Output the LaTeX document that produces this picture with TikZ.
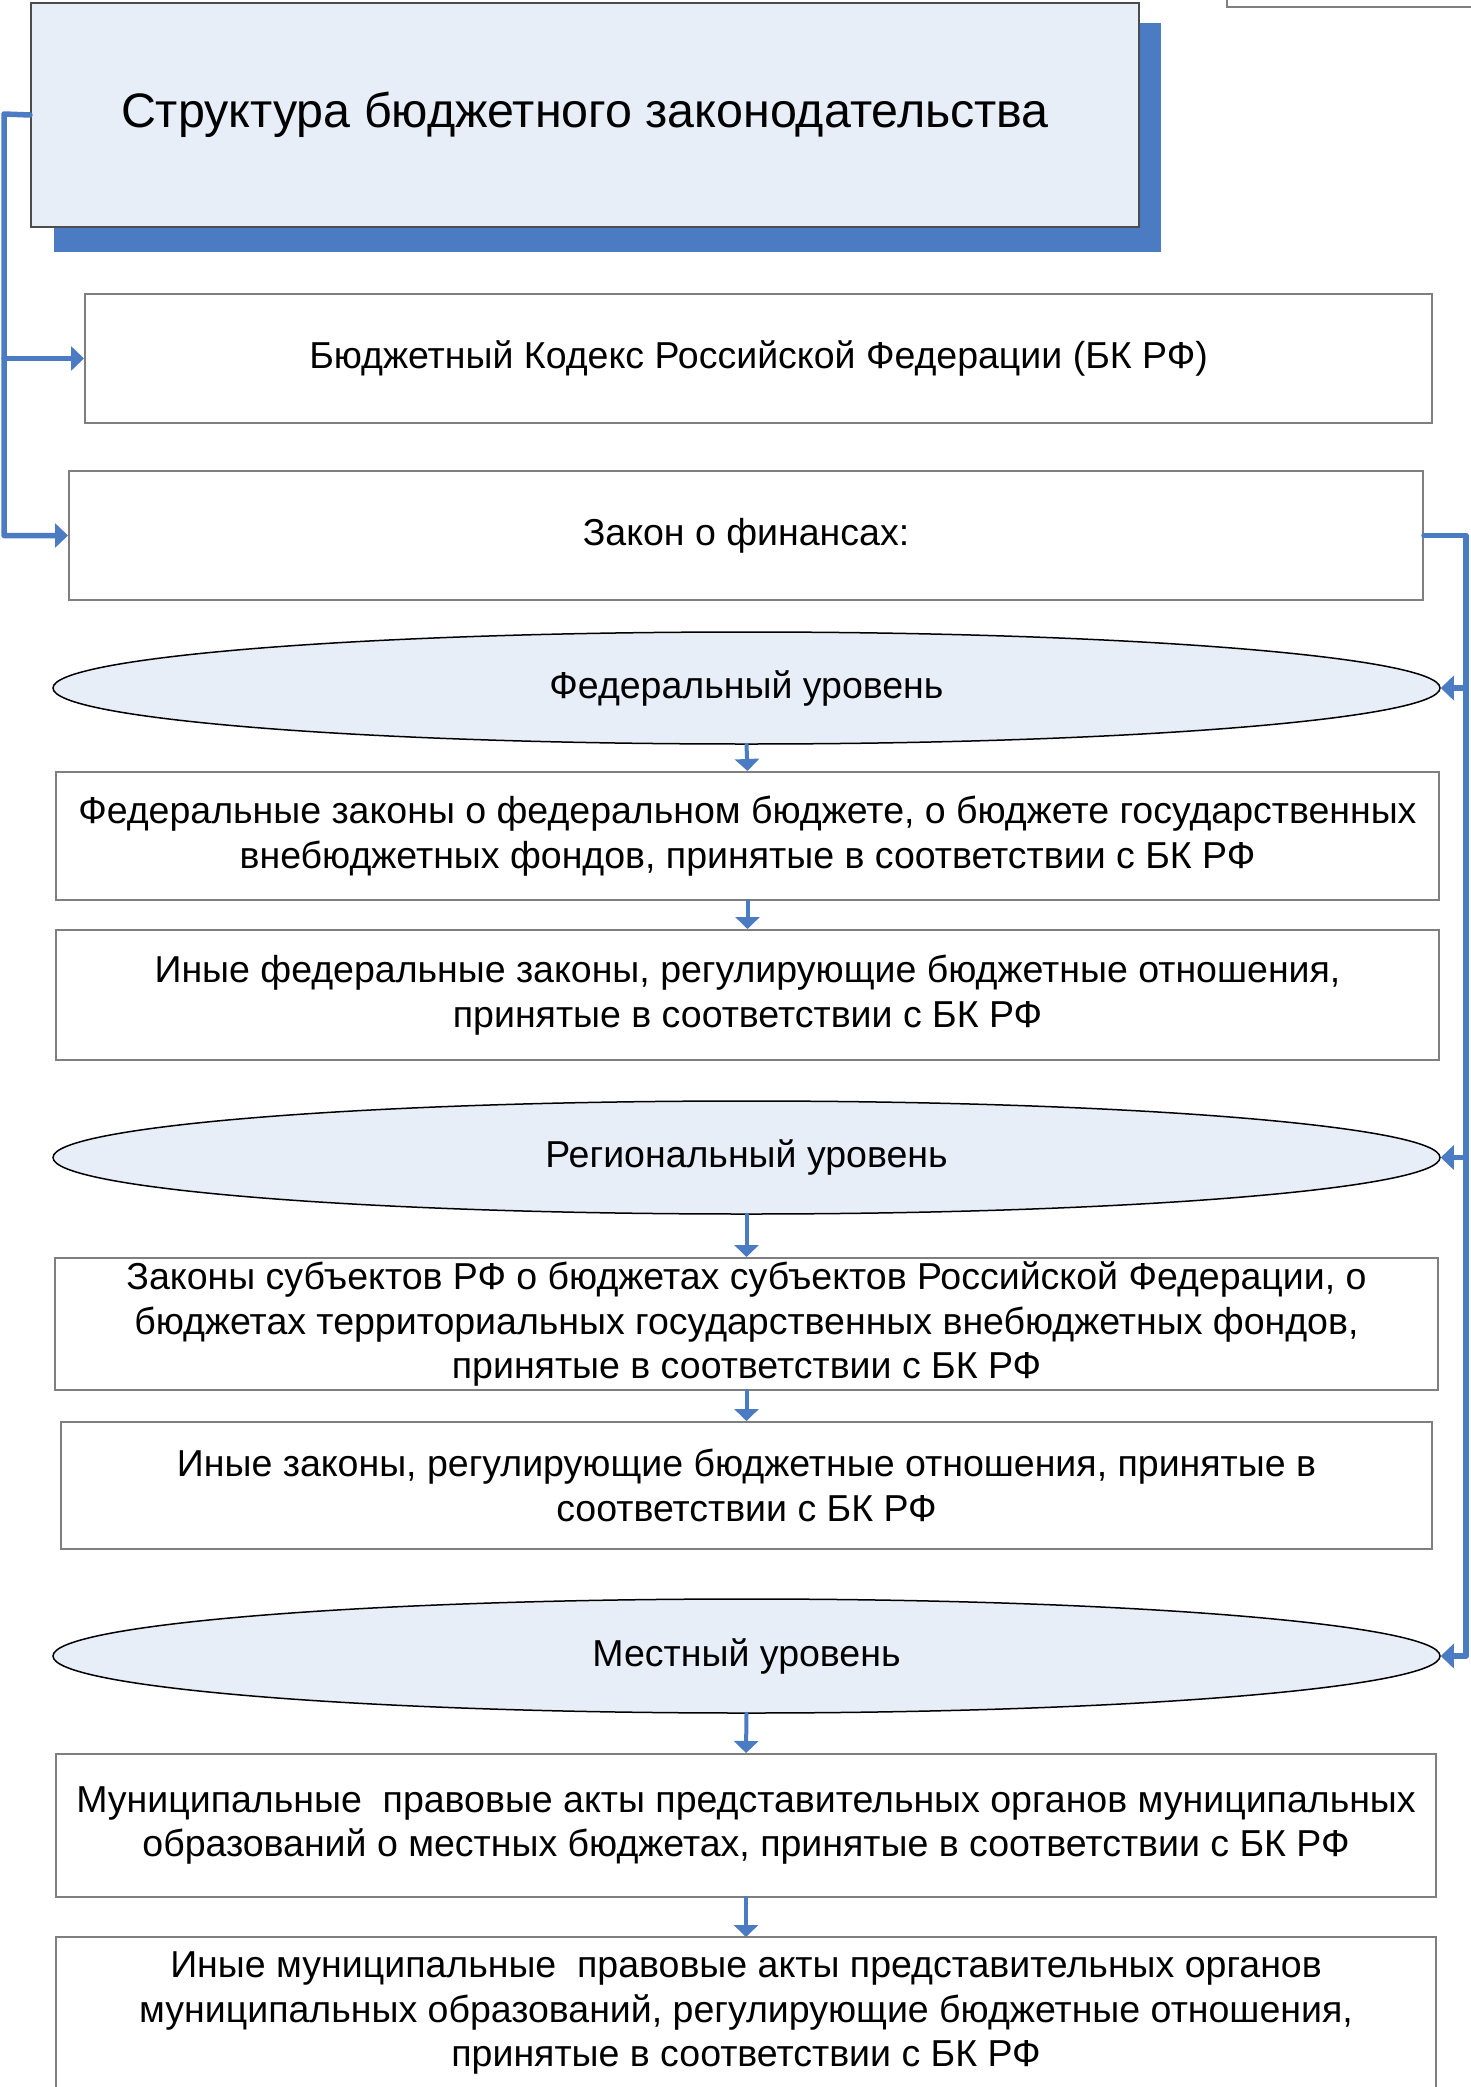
\documentclass[tikz,border=0pt]{standalone}
\usepackage{fontspec}
\setmainfont{Liberation Sans}
\usetikzlibrary{arrows.meta,shapes.geometric}
\definecolor{cblue}{HTML}{4A7BC3}
\definecolor{lfill}{HTML}{E7EEF8}
\definecolor{bgray}{HTML}{7F7F7F}
\begin{document}
\begin{tikzpicture}[x=1pt,y=-1pt,
 box/.style={draw=bgray,line width=2pt,rectangle,inner sep=0pt,align=center,font=\fontsize{37.5}{44.5}\selectfont},
 ell/.style={draw=black,line width=1.5pt,ellipse,fill=lfill,inner sep=0pt,font=\fontsize{37.5}{44.5}\selectfont},
 conn/.style={draw=cblue,line width=5.5pt,line cap=round,line join=round},
 tipR/.style={-{Triangle[width=24pt,length=13pt]}},
 down/.style={draw=cblue,line width=4pt,line cap=round,-{Triangle[width=24pt,length=12pt]}}
]
\useasboundingbox (0,0) rectangle (1471,2087);
\clip (0,0) rectangle (1471,2087);

% top-right partial box
\draw[draw=bgray,line width=2pt] (1227,-20) rectangle (1500,7);

% title with shadow
\fill[cblue] (54,23) rectangle (1161,252);
\node[draw=black!70,line width=2pt,fill=lfill,inner sep=0pt,minimum width=1108pt,minimum height=224pt,font=\fontsize{48.4}{58}\selectfont] (title) at (585,115) {\raisebox{-2pt}{Структура бюджетного законодательства}};

\node[box,minimum width=1347pt,minimum height=129pt] (bk) at (758.5,358.5) {Бюджетный Кодекс Российской Федерации (БК РФ)};
\node[box,minimum width=1354pt,minimum height=129pt] (zakon) at (746,535.5) {Закон о финансах:};

\node[ell,minimum width=1387pt,minimum height=112pt] (fed) at (746.5,688) {Федеральный уровень};
\node[box,minimum width=1383pt,minimum height=128pt] (fb1) at (747.5,836) {Федеральные законы о федеральном бюджете, о бюджете государственных\\внебюджетных фондов, принятые в соответствии с БК РФ};
\node[box,minimum width=1383pt,minimum height=130pt] (fb2) at (747.5,995) {Иные федеральные законы, регулирующие бюджетные отношения,\\принятые в соответствии с БК РФ};

\node[ell,minimum width=1387pt,minimum height=113pt] (reg) at (746.5,1157.5) {Региональный уровень};
\node[box,minimum width=1383pt,minimum height=132pt] (rb1) at (746.5,1324) {Законы субъектов РФ о бюджетах субъектов Российской Федерации, о\\бюджетах территориальных государственных внебюджетных фондов,\\принятые в соответствии с БК РФ};
\node[box,minimum width=1371pt,minimum height=127pt] (rb2) at (746.5,1485.5) {Иные законы, регулирующие бюджетные отношения, принятые в\\соответствии с БК РФ};

\node[ell,minimum width=1387pt,minimum height=114pt] (loc) at (746.5,1656) {Местный уровень};
\node[box,minimum width=1380pt,minimum height=143pt] (lb1) at (746,1825.5) {Муниципальные\ \ правовые акты представительных органов муниципальных\\образований о местных бюджетах, принятые в соответствии с БК РФ};

% last box (cut off at the bottom)
\draw[draw=bgray,line width=2pt] (56,2110) -- (56,1937) -- (1436,1937) -- (1436,2110);
\coordinate (lb2top) at (746,1937);
\node[inner sep=0pt,align=center,font=\fontsize{37.5}{44.5}\selectfont] (lb2) at (746,2013) {Иные муниципальные\ \ правовые акты представительных органов\\муниципальных образований, регулирующие бюджетные отношения,\\принятые в соответствии с БК РФ};

% left connector
\coordinate (L1) at (4,114);
\draw[conn,tipR] (title.west) -- (L1) |- (zakon.west);
\draw[conn,tipR] (L1 |- bk.west) -- (bk.west);

% right connector
\coordinate (R1) at (1466,535.5);
\draw[conn,tipR] (zakon.east) -- (R1) |- (loc.east);
\draw[conn,tipR] (R1 |- fed.east) -- (fed.east);
\draw[conn,tipR] (R1 |- reg.east) -- (reg.east);

% vertical arrows
\draw[down] (fed.south) -- (fb1.north);
\draw[down] (fb1.south) -- (fb2.north);
\draw[down] (reg.south) -- (rb1.north);
\draw[down] (rb1.south) -- (rb2.north);
\draw[down] (loc.south) -- (lb1.north);
\draw[down] (lb1.south) -- (lb2top);
\end{tikzpicture}
\end{document}
